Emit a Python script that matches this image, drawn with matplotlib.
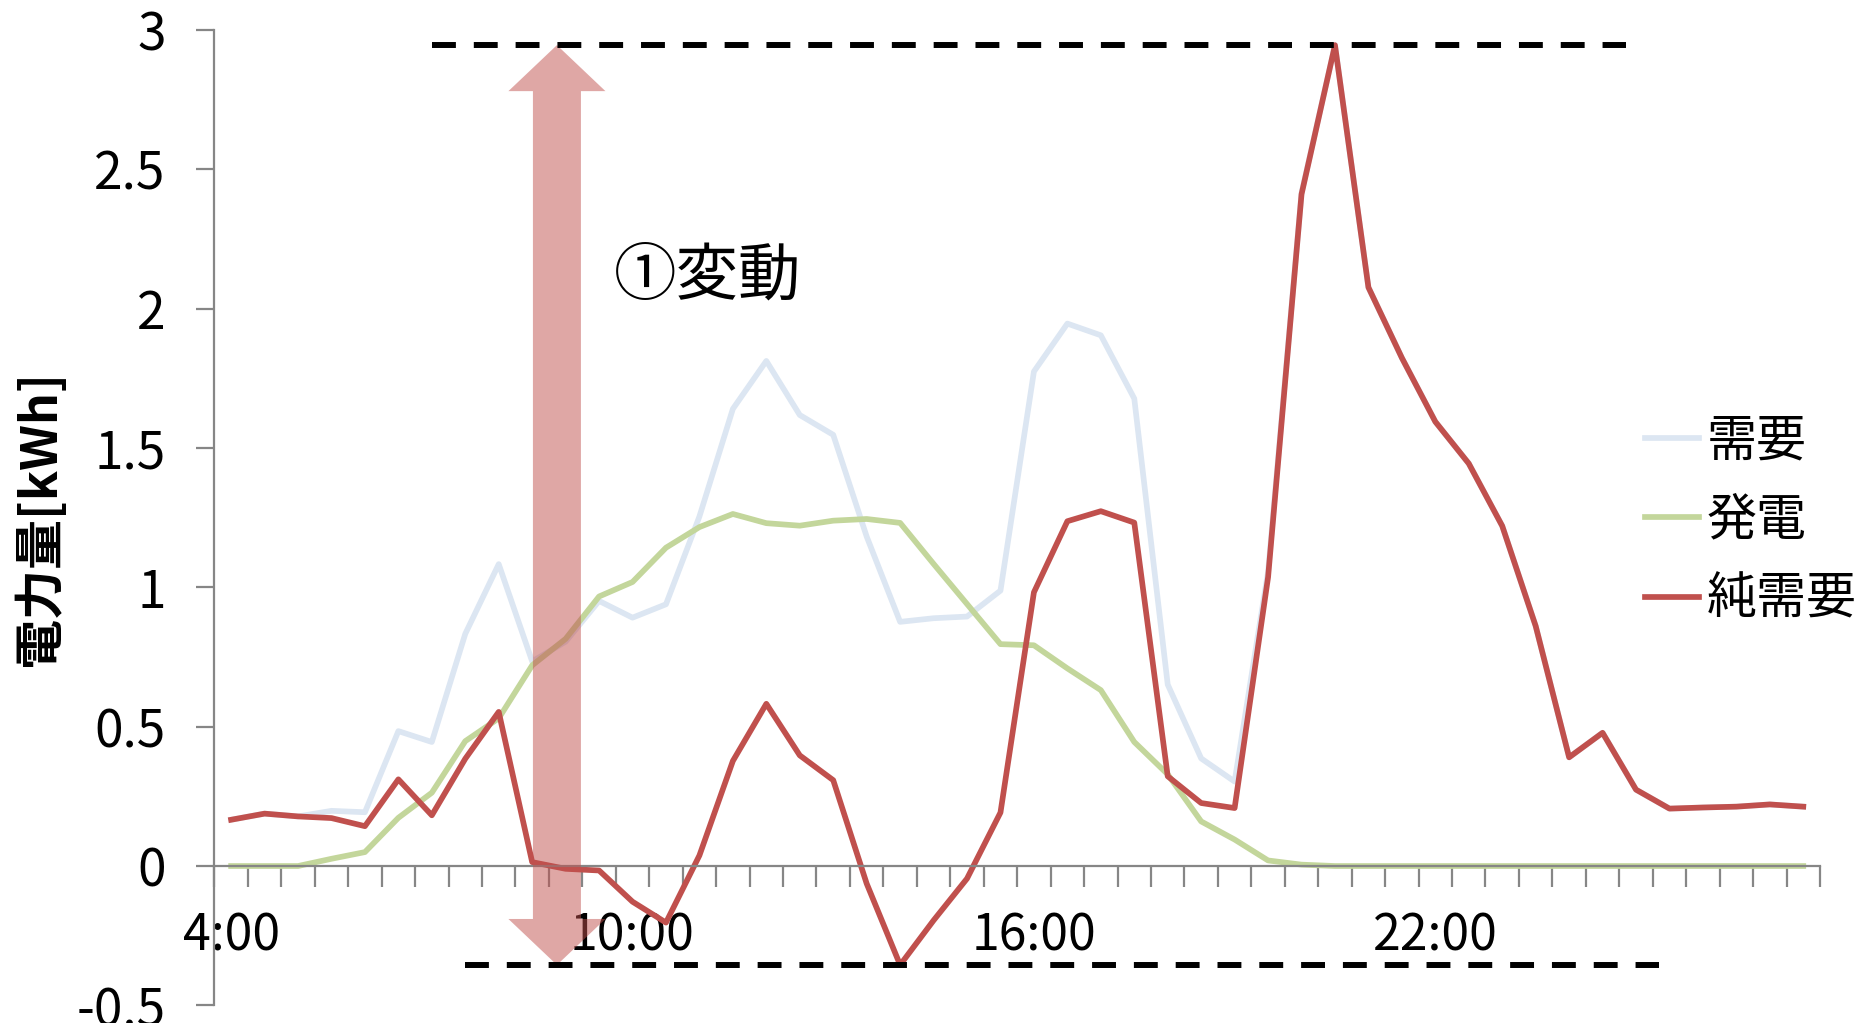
import matplotlib
matplotlib.use("Agg")
import matplotlib.pyplot as plt
from matplotlib.patches import Polygon
import numpy as np

plt.rcParams['font.family'] = ['Noto Sans CJK JP', 'DejaVu Sans']

# Half-hourly slots from 4:00 through 3:30 of the next day
times = [f"{(4 + i // 2)}:{'30' if i % 2 else '00'}" for i in range(48)]
labelled_times = ["4:00", "10:00", "16:00", "22:00"]

# Demand (需要) [kWh]
demand = [0.166, 0.188, 0.178, 0.198, 0.193, 0.484, 0.445, 0.833, 1.083, 0.734,
          0.805, 0.951, 0.891, 0.939, 1.254, 1.640, 1.812, 1.618, 1.547, 1.182,
          0.876, 0.889, 0.895, 0.988, 1.774, 1.946, 1.904, 1.677, 0.651, 0.386,
          0.303, 1.056, 2.415, 2.945, 2.076, 1.823, 1.594, 1.444, 1.220, 0.861,
          0.390, 0.478, 0.274, 0.206, 0.210, 0.213, 0.221, 0.213]

# PV generation (発電) [kWh]
generation = [0.0, 0.0, 0.0, 0.026, 0.050, 0.173, 0.263, 0.448, 0.530, 0.720,
              0.815, 0.967, 1.019, 1.142, 1.216, 1.263, 1.230, 1.221, 1.239, 1.245,
              1.231, 1.084, 0.940, 0.796, 0.792, 0.709, 0.631, 0.445, 0.329, 0.160,
              0.095, 0.020, 0.005, 0.0, 0.0, 0.0, 0.0, 0.0, 0.0, 0.0,
              0.0, 0.0, 0.0, 0.0, 0.0, 0.0, 0.0, 0.0]

# Net demand (純需要) [kWh]
net_demand = [0.166, 0.188, 0.178, 0.172, 0.143, 0.311, 0.182, 0.385, 0.553, 0.014,
              -0.010, -0.016, -0.128, -0.203, 0.038, 0.377, 0.582, 0.397, 0.308, -0.063,
              -0.355, -0.195, -0.045, 0.192, 0.982, 1.237, 1.273, 1.232, 0.322, 0.226,
              0.208, 1.036, 2.410, 2.945, 2.076, 1.823, 1.594, 1.444, 1.220, 0.861,
              0.390, 0.478, 0.274, 0.206, 0.210, 0.213, 0.221, 0.213]

C_DEMAND = "#DCE6F2"
C_GEN = "#C3D69B"
C_NET = "#C0504D"
C_AXIS = "#868686"

W, H, DPI = 1868, 1023, 100
fig = plt.figure(figsize=(W / DPI, H / DPI), dpi=DPI)
ax = fig.add_axes([214.4 / W, 1 - 1005.4 / H, (1820 - 214.4) / W, (1005.4 - 29.8) / H])

x = np.arange(len(times))
lw = 4.1
ax.plot(x, demand, color=C_DEMAND, lw=lw, label="需要", solid_joinstyle="round")
ax.plot(x, generation, color=C_GEN, lw=lw, label="発電", solid_joinstyle="round")
ax.plot(x, net_demand, color=C_NET, lw=lw, label="純需要", solid_joinstyle="round")

ax.set_xlim(-0.5, len(times) - 0.5)
ax.set_ylim(-0.5, 3.0)

# Axes styling
for side in ("top", "right"):
    ax.spines[side].set_visible(False)
ax.spines["bottom"].set_position(("data", 0))
for side in ("left", "bottom"):
    ax.spines[side].set_color(C_AXIS)
    ax.spines[side].set_linewidth(1.6)

ax.set_yticks(np.arange(-0.5, 3.01, 0.5))
ax.set_yticklabels(["-0.5", "0", "0.5", "1", "1.5", "2", "2.5", "3"])
ax.tick_params(axis="y", direction="out", length=13, width=1.6, color=C_AXIS,
               labelsize=37, pad=22)

major_pos = [times.index(t) for t in labelled_times]
ax.set_xticks(major_pos)
ax.set_xticklabels(labelled_times)
ax.set_xticks(np.arange(-0.5, len(times), 1.0), minor=True)
ax.tick_params(axis="x", which="major", length=0, labelsize=36, pad=32)
ax.tick_params(axis="x", which="minor", direction="out", length=15, width=1.6,
               color=C_AXIS)

ax.set_ylabel("電力量[kWh]", fontsize=36, fontweight="bold")
ax.yaxis.set_label_coords((65.5 - 214.4) / (1820 - 214.4), 0.5)

# Range of the net demand: dashed guides at its maximum and minimum
y_max = max(net_demand)
y_min = min(net_demand)
ax.plot([6.0, 41.7], [y_max, y_max], color="black", lw=4.3, dashes=(4.0, 3.0),
        zorder=5)
ax.plot([7.0, 42.7], [y_min, y_min], color="black", lw=4.3, dashes=(4.0, 3.0),
        zorder=5)

# Double-headed arrow spanning the range (built in pixel units, stored in data units)
x_arrow = 9.74
px_top = ax.transData.transform((x_arrow, y_max))
px_bot = ax.transData.transform((x_arrow, y_min))
cx = px_top[0]
shaft, head_w, head_l = 48 / 2, 97 / 2, 46
pts_px = [
    (cx, px_top[1]),
    (cx + head_w, px_top[1] - head_l),
    (cx + shaft, px_top[1] - head_l),
    (cx + shaft, px_bot[1] + head_l),
    (cx + head_w, px_bot[1] + head_l),
    (cx, px_bot[1]),
    (cx - head_w, px_bot[1] + head_l),
    (cx - shaft, px_bot[1] + head_l),
    (cx - shaft, px_top[1] - head_l),
    (cx - head_w, px_top[1] - head_l),
]
pts_data = ax.transData.inverted().transform(pts_px)
ax.add_patch(Polygon(pts_data, closed=True, facecolor=C_NET, alpha=0.5,
                     edgecolor="none", zorder=4))

ax.text(614 / W, 1 - 276 / H, "①変動", transform=fig.transFigure, fontsize=45,
        ha="left", va="center")

leg = ax.legend(loc="upper left", bbox_to_anchor=(1645 / W, 1 - 415 / H),
                bbox_transform=fig.transFigure, frameon=False, fontsize=36,
                handlelength=1.07, handletextpad=0.16, labelspacing=0.55,
                borderpad=0, borderaxespad=0)

fig.savefig("out.png", dpi=DPI)
